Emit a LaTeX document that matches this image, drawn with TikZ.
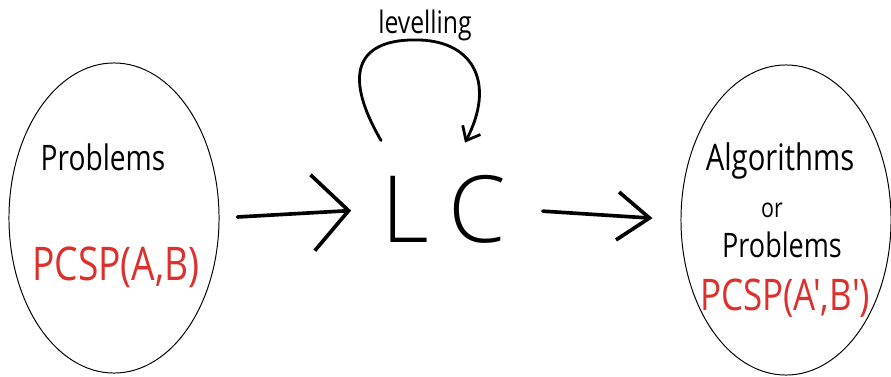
\documentclass[tikz,border=0pt]{standalone}
\usepackage{fontspec}
\usetikzlibrary{shapes.geometric,arrows.meta}
\newfontfamily\handfont[FakeStretch=0.8]{Open Sans}
\IfFontExistsTF{Open Sans Light}
  {\newfontfamily\thinfont{Open Sans Light}}
  {\IfFontExistsTF{DejaVu Sans ExtraLight}
    {\newfontfamily\thinfont{DejaVu Sans ExtraLight}}
    {\newfontfamily\thinfont{Open Sans}}}
\definecolor{penred}{RGB}{221,47,43}

\begin{document}
\begin{tikzpicture}[x=0.025cm,y=-0.025cm,
        blob/.style={ellipse, draw, line width=0.7pt,
                        minimum width=5.25cm, minimum height=7.75cm},
        txt/.style={anchor=base, inner sep=0pt,
                        font=\handfont\fontsize{#1}{#1}\selectfont},
        stroke/.style={line width=2.6pt, line cap=round, line join=round}]
    \useasboundingbox (0,0) rectangle (891,376);
    % left and right sets
    \node[blob] (src) at (114,218) {};
    \node[blob] (dst) at (786,220) {};
    \node[txt=25] (prob) at (103,170) {Problems};
    \node[txt=33, text=penred] (pcsp) at (116,280) {PCSP(A,B)};
    \node[txt=26] (alg) at (780,170) {Algorithms};
    \node[txt=19] (or) at (772,217) {or};
    \node[txt=24] (prob2) at (782,257) {Problems};
    \node[txt=31, text=penred] (pcsp2) at (785,310) {PCSP(A',B')};
    % LC in the middle
    \node[txt=65, font=\thinfont\fontsize{66}{66}\selectfont]
        (lc) at (444,242) {L\hspace{0.5cm}C};
    \node[txt=22] (lev) at (425,33) {levelling};
    \draw[stroke, -{Straight Barb[length=9mm,width=19mm]},
          shorten <=0.45cm, shorten >=0.75cm] (src.east) -- (lc.west);
    \draw[stroke, -{Straight Barb[length=8mm,width=12mm]},
          shorten <=0.9cm, shorten >=0.7cm] (lc.east) -- (dst.west);
    \draw[stroke, line width=2pt, -{Straight Barb[length=3mm,width=5mm]}]
        ([shift={(0,-34)}]lc.north west) .. controls (340,70) and (360,38) ..
        (420,40) .. controls (475,42) and (495,85) ..
        ([shift={(21,-32)}]lc.north);
\end{tikzpicture}
\end{document}
